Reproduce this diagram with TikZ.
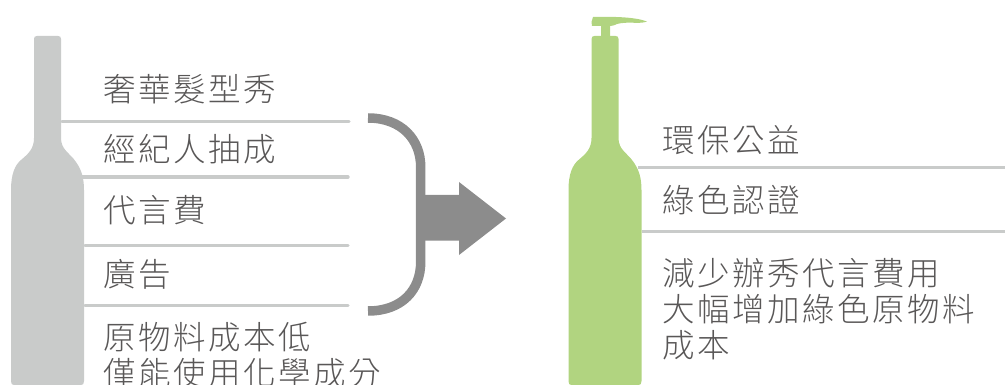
\documentclass[tikz,border=0pt]{standalone}
\usepackage{fontspec}
\newfontfamily\cjklight[LetterSpace=7.7]{Noto Sans CJK TC Light}
\definecolor{rulegray}{HTML}{C9CBCA}
\definecolor{bracegray}{HTML}{8C8C8C}
\definecolor{bottlegreen}{HTML}{B1D480}
\definecolor{textgray}{HTML}{595757}
\tikzset{
    label/.style={anchor=base west, inner sep=0pt, text=textgray, align=left, font=\cjklight\fontsize{32.5}{36}\selectfont},
    rule/.style={rulegray, line width=3.4pt, line cap=round}
}
\begin{document}
\begin{tikzpicture}[x=1pt, y=-1pt]
    \useasboundingbox (0,0) rectangle (1005,385);
    \clip (0,0) rectangle (1005,385);

    % Garrafa cinza
    \fill[rulegray] (34,39) .. controls (34,37) and (35,36) .. (37,36) -- (58,36)
        .. controls (60,36) and (61,37) .. (61,39) -- (61,138)
        .. controls (61,150) and (70,153) .. (76,162)
        .. controls (81,169) and (84,177) .. (84,190) -- (84,381)
        .. controls (84,384) and (83,385) .. (81,385) -- (14,385)
        .. controls (12,385) and (11,384) .. (11,381) -- (11,190)
        .. controls (11,174) and (15,165) .. (21,160)
        .. controls (28,154) and (34,149) .. (34,138) -- cycle;

    % Garrafa verde
    \fill[bottlegreen] (591.5,39) .. controls (591.5,37) and (592.5,36) .. (594.5,36) -- (615.5,36)
        .. controls (617.5,36) and (618.5,37) .. (618.5,39) -- (618.5,138)
        .. controls (618.5,150) and (627.5,153) .. (633.5,162)
        .. controls (638.5,169) and (641.5,177) .. (641.5,190) -- (641.5,381)
        .. controls (641.5,384) and (640.5,385) .. (638.5,385) -- (571.5,385)
        .. controls (569.5,385) and (568.5,384) .. (568.5,381) -- (568.5,190)
        .. controls (568.5,174) and (572.5,165) .. (578.5,160)
        .. controls (585.5,154) and (591.5,149) .. (591.5,138) -- cycle;
    \fill[bottlegreen] (601,37) -- (601,26) -- (592,26) -- (591.5,22) -- (593,17)
        .. controls (615,16.5) and (635,17) .. (647,21.5)
        .. controls (640,24.5) and (628,21) .. (617,24)
        .. controls (615,25) and (613,26) .. (610,26) -- (610,37) -- cycle;

    % Linhas
    \draw[rule] (62,121.7) -- (349,121.7);
    \draw[rule] (82,177) -- (348,177);
    \draw[rule] (85,245.7) -- (348,245.7);
    \draw[rule] (85,305.7) -- (348,305.7);
    \draw[rulegray, line width=3.4pt] (638,167.3) -- (1005,167.3);
    \draw[rulegray, line width=3.4pt] (642,231.7) -- (1005,231.7);

    % Chave e seta
    \draw[bracegray, line width=9.5pt] (368,118) .. controls (402,118) and (420.7,140) .. (420.7,167)
        -- (420.7,262) .. controls (420.7,290) and (402,311) .. (368,311);
    \fill[bracegray] (424,195) -- (459,195) -- (459,182) -- (506,218.5) -- (459,255) -- (459,240.7) -- (424,240.7) -- cycle;

    \node[label] (luxo) at (103.5,102) {奢華髮型秀};
    \node[label] (agente) at (103.5,162) {經紀人抽成};
    \node[label] (cache) at (103.5,222.5) {代言費};
    \node[label] (anuncio) at (103.5,287) {廣告};
    \node[label] (materia) at (103.5,385.5) {原物料成本低\\僅能使用化學成分};
    \node[label] (ambiente) at (662.5,152.5) {環保公益};
    \node[label] (selo) at (662.5,212) {綠色認證};
    \node[label] (custo) at (662.5,357) {減少辦秀代言費用\\大幅增加綠色原物料\\成本};
\end{tikzpicture}
\end{document}
